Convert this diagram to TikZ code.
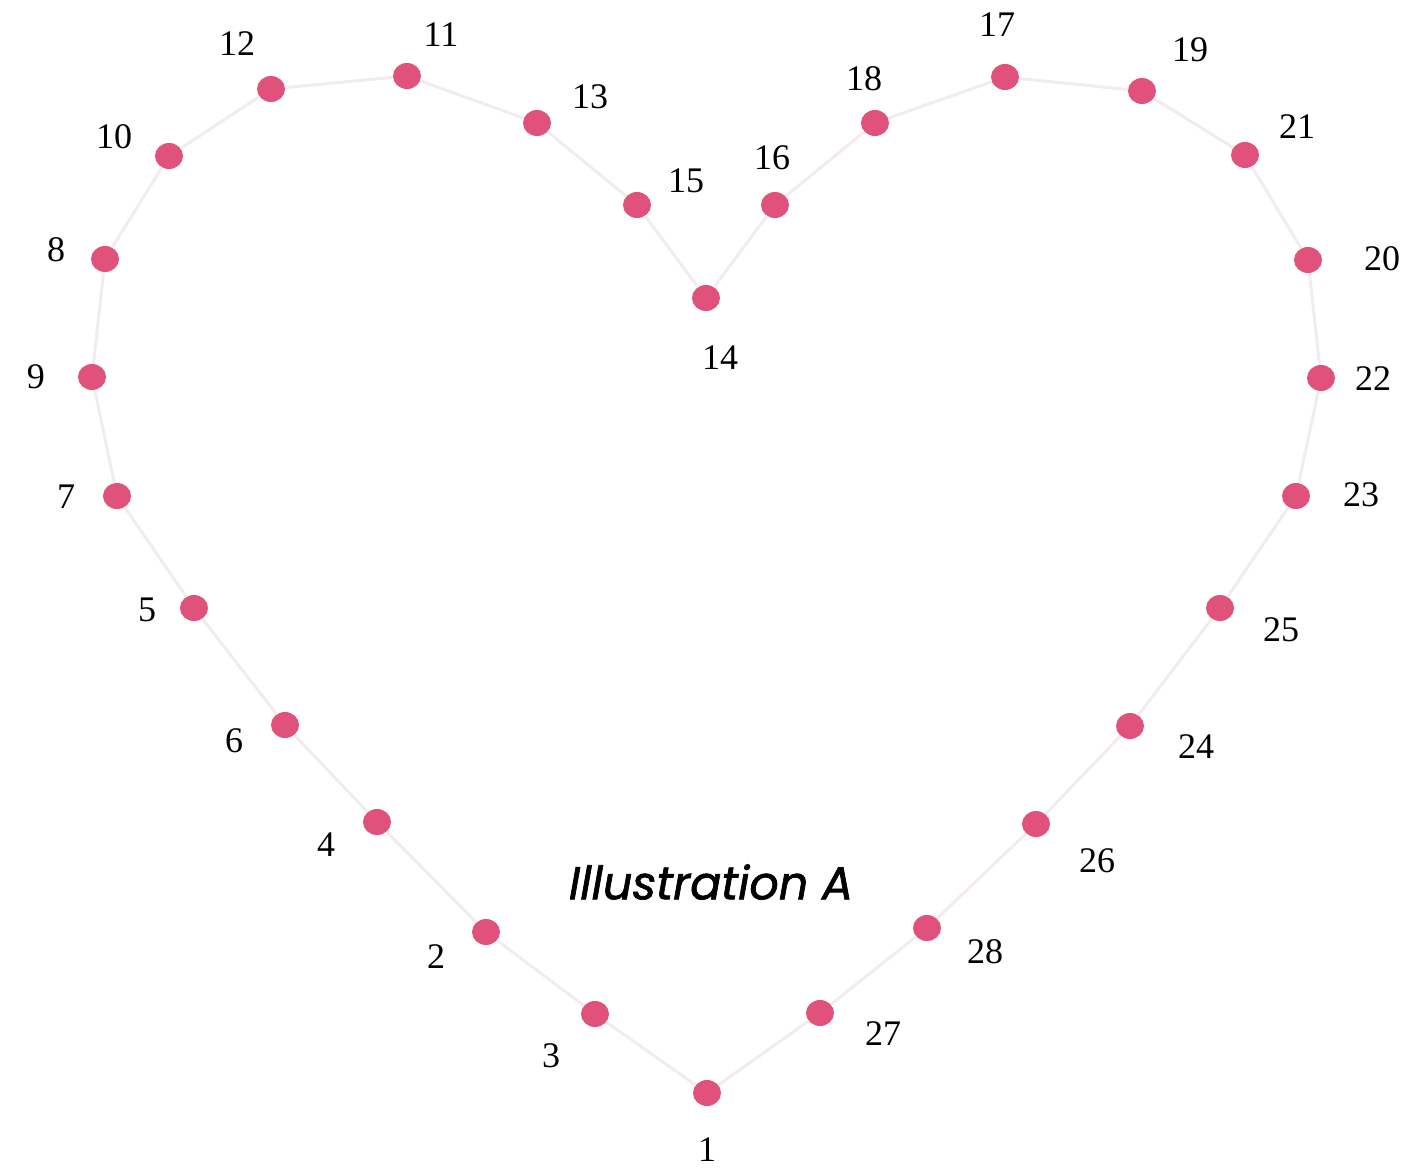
\documentclass[tikz,border=0pt]{standalone}
\usepackage{fontspec}
\usetikzlibrary{shapes.geometric}
\setmainfont{Liberation Serif}
\newfontfamily\illfont[FakeBold=1.5]{Poppins}
\definecolor{dotpink}{HTML}{E0527C}
\definecolor{faintline}{HTML}{F3ECEE}
\begin{document}
\begin{tikzpicture}[x=1pt,y=-1pt,
  dotnode/.style={ellipse,fill=dotpink,minimum width=28pt,minimum height=26pt,inner sep=0pt},
  numlabel/.style={font=\fontsize{36}{36}\selectfont,inner sep=0pt,anchor=center},
  outline/.style={draw=faintline,line width=3pt}]
\useasboundingbox (0,0) rectangle (1428,1169);
\foreach \n/\x/\y in {1/707/1093,2/486/932,3/595/1014,4/377/822,5/194/608,6/285/725,7/117/496,8/105/259,9/92/377,10/169/156,11/407/76,12/271/89,13/537/123,14/706/298,15/637/205,16/775/205,17/1005/77,18/875/123,19/1142/91,20/1308/260,21/1245/155,22/1321/378,23/1296/496,24/1130/726,25/1220/608,26/1036/824,27/820/1013,28/927/928}
  \node[dotnode] (d\n) at (\x,\y) {};
\begin{scope}[on background layer/.try]
\end{scope}
\draw[outline] (d1) -- (d3) -- (d2) -- (d4) -- (d6) -- (d5) -- (d7) -- (d9) -- (d8) -- (d10) -- (d12) -- (d11) -- (d13) -- (d15) -- (d14) -- (d16) -- (d18) -- (d17) -- (d19) -- (d21) -- (d20) -- (d22) -- (d23) -- (d25) -- (d24) -- (d26) -- (d28) -- (d27) -- (d1);
\foreach \n/\x/\y in {1/707/1150,2/436/957,3/551/1056,4/326/845,5/147/610,6/234/741,7/66/497,8/56/250,9/36/377,10/114/137,11/441/35,12/237/44,13/590/97,14/720/358,15/686/181,16/772/158,17/997/25,18/864/79,19/1190/50,20/1382/259,21/1297/127,22/1373/379,23/1361/495,24/1196/747,25/1281/630,26/1097/861,27/883/1034,28/985/952}
  \node[numlabel] (l\n) at (\x,\y) {\n};
\node[font=\illfont\itshape\fontsize{46}{46}\selectfont,inner sep=0pt] (title) at (711,882) {Illustration A};
\end{tikzpicture}
\end{document}
